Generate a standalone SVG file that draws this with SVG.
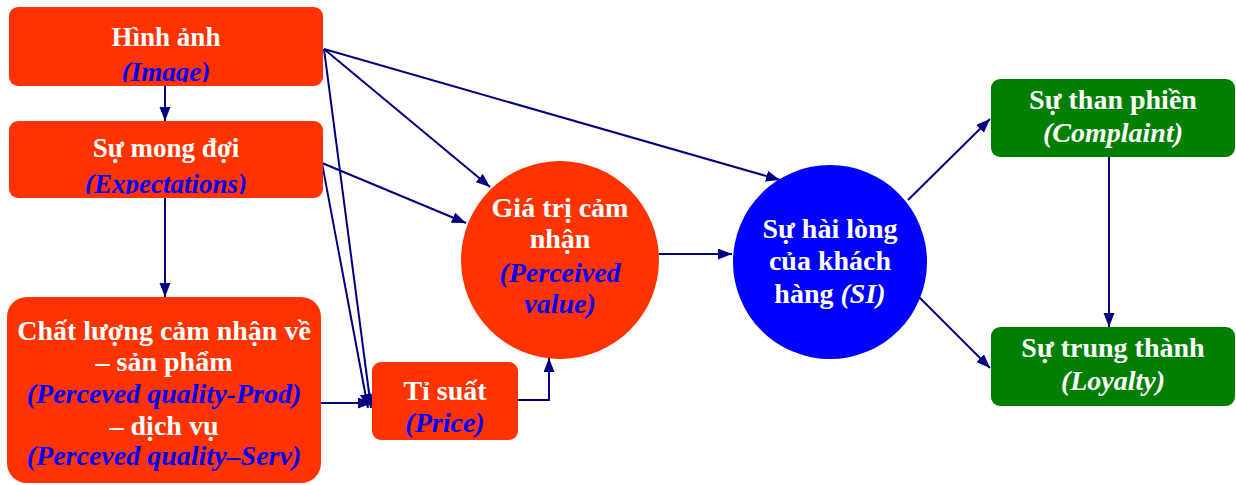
<svg xmlns="http://www.w3.org/2000/svg" width="1236" height="485" viewBox="0 0 1236 485">
<style>
.t{font-family:"Liberation Serif","Times New Roman",serif;font-weight:bold;font-size:27px;text-anchor:middle;fill:#FFFFFF}
.c{font-size:28px}
.e{font-style:italic;fill:#0000FF}
.ew{font-style:italic;fill:#FFFFFF}
.red{fill:#FF3300}
.grn{fill:#007F00}
.ln{fill:none;stroke:#000080;stroke-width:2}
</style>
<defs>
<marker id="ah" markerUnits="userSpaceOnUse" markerWidth="15" markerHeight="12" refX="14" refY="5.5" orient="auto">
<path d="M0,0 L14,5.5 L0,11 z" fill="#000080"/>
</marker>
<clipPath id="clipImg"><rect x="0" y="0" width="400" height="82"/></clipPath>
<clipPath id="clipExp"><rect x="0" y="100" width="400" height="94"/></clipPath>
</defs>

<g id="connectors">
<line class="ln" x1="165" y1="86" x2="165" y2="121" marker-end="url(#ah)"/>
<line class="ln" x1="165" y1="198" x2="165" y2="297" marker-end="url(#ah)"/>
<line class="ln" x1="324" y1="49" x2="490" y2="187" marker-end="url(#ah)"/>
<line class="ln" x1="324" y1="49" x2="780" y2="180" marker-end="url(#ah)"/>
<line class="ln" x1="324" y1="49" x2="371" y2="408" marker-end="url(#ah)"/>
<line class="ln" x1="322" y1="163" x2="466" y2="223" marker-end="url(#ah)"/>
<line class="ln" x1="322" y1="163" x2="368" y2="408" marker-end="url(#ah)"/>
<line class="ln" x1="321" y1="403" x2="372" y2="403" marker-end="url(#ah)"/>
<polyline class="ln" points="518,400 549,400 549,358" marker-end="url(#ah)"/>
<line class="ln" x1="659" y1="254" x2="732" y2="254" marker-end="url(#ah)"/>
<line class="ln" x1="908" y1="200" x2="990" y2="119" marker-end="url(#ah)"/>
<line class="ln" x1="919" y1="297" x2="990" y2="368" marker-end="url(#ah)"/>
<line class="ln" x1="1109" y1="157" x2="1109" y2="327" marker-end="url(#ah)"/>
</g>

<g id="image">
<rect class="red" x="9" y="7" width="314" height="79" rx="9"/>
<text class="t" x="166" y="46">Hình ảnh</text>
<text class="t e" x="166" y="81" clip-path="url(#clipImg)">(Image)</text>
</g>

<g id="expectations">
<rect class="red" x="9" y="121" width="314" height="77" rx="9"/>
<text class="t" x="166" y="157">Sự mong đợi</text>
<text class="t e" x="166" y="193" clip-path="url(#clipExp)">(Expectations)</text>
</g>

<g id="quality">
<rect class="red" x="7" y="297" width="314" height="186" rx="20"/>
<text class="t c" x="164" y="340">Chất lượng cảm nhận về</text>
<text class="t c" x="164" y="371">– sản phẩm</text>
<text class="t c e" x="164" y="403">(Perceved quality-Prod)</text>
<text class="t c" x="164" y="435">– dịch vụ</text>
<text class="t c e" x="164" y="465">(Perceved quality–Serv)</text>
</g>

<g id="price">
<rect class="red" x="372" y="362" width="146" height="78" rx="9"/>
<text class="t c" x="445" y="400">Tỉ suất</text>
<text class="t c e" x="445" y="432">(Price)</text>
</g>

<g id="value">
<circle class="red" cx="560" cy="260" r="99"/>
<text class="t c" x="560" y="217">Giá trị cảm</text>
<text class="t c" x="560" y="248">nhận</text>
<text class="t c e" x="560" y="282">(Perceived</text>
<text class="t c e" x="560" y="313">value)</text>
</g>

<g id="satisfaction">
<circle cx="830" cy="262" r="97" fill="#0000FF"/>
<text class="t c" x="830" y="238">Sự hài lòng</text>
<text class="t c" x="830" y="270">của khách</text>
<text class="t c" x="830" y="303">hàng <tspan font-style="italic">(SI)</tspan></text>
</g>

<g id="complaint">
<rect class="grn" x="991" y="79" width="244" height="78" rx="9"/>
<text class="t c" x="1113" y="109">Sự than phiền</text>
<text class="t c ew" x="1113" y="142">(Complaint)</text>
</g>

<g id="loyalty">
<rect class="grn" x="991" y="327" width="244" height="79" rx="9"/>
<text class="t c" x="1113" y="357">Sự trung thành</text>
<text class="t c ew" x="1113" y="390">(Loyalty)</text>
</g>
</svg>
